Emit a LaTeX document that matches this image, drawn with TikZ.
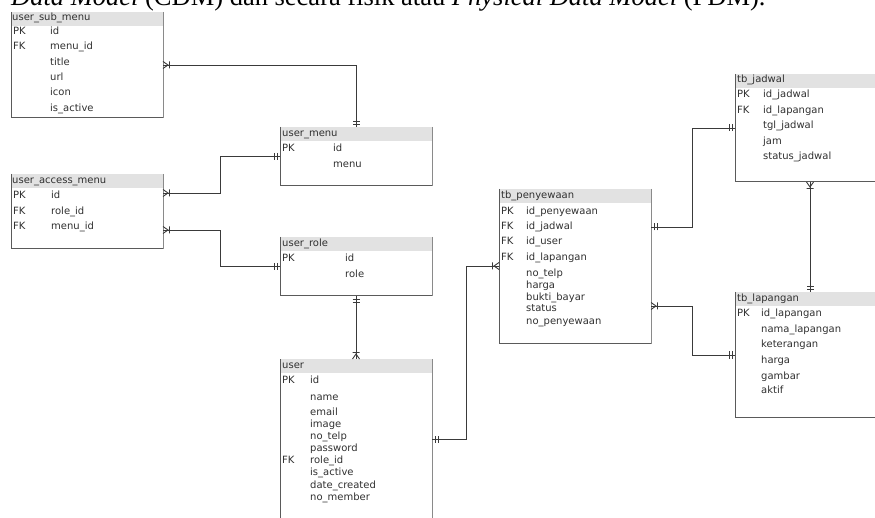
\documentclass[tikz,border=0pt]{standalone}
\usepackage{fontspec}
\setmainfont{Liberation Serif}
\newfontfamily\erfont{DejaVu Sans}
\usetikzlibrary{calc}
\definecolor{hdrgray}{HTML}{E2E2E2}
\definecolor{txtgray}{HTML}{303030}
\definecolor{linegray}{HTML}{3A3A3A}
\definecolor{frameL}{HTML}{5A5A5A}
\definecolor{frameR}{HTML}{8A8A8A}
\pgfarrowsdeclare{crowone}{crowone}
{\pgfarrowsleftextend{-8pt}\pgfarrowsrightextend{0pt}}
{\pgfsetdash{}{0pt}
 \pgfpathmoveto{\pgfqpoint{0pt}{3.5pt}}
 \pgfpathlineto{\pgfqpoint{-5pt}{0pt}}
 \pgfpathlineto{\pgfqpoint{0pt}{-3.5pt}}
 \pgfpathmoveto{\pgfqpoint{-6.5pt}{3.5pt}}
 \pgfpathlineto{\pgfqpoint{-6.5pt}{-3.5pt}}
 \pgfusepathqstroke}
\pgfarrowsdeclare{oneone}{oneone}
{\pgfarrowsleftextend{-8pt}\pgfarrowsrightextend{0pt}}
{\pgfsetdash{}{0pt}
 \pgfpathmoveto{\pgfqpoint{-3pt}{3.5pt}}
 \pgfpathlineto{\pgfqpoint{-3pt}{-3.5pt}}
 \pgfpathmoveto{\pgfqpoint{-6pt}{3.5pt}}
 \pgfpathlineto{\pgfqpoint{-6pt}{-3.5pt}}
 \pgfusepathqstroke}
\tikzset{
  tframe/.style={inner sep=0pt, outer sep=0pt, anchor=north west},
  fld/.style={anchor=west, inner sep=0pt, text=txtgray,
    font=\erfont\fontsize{10}{12}\selectfont, text height=7pt, text depth=1.6pt},
  conn/.style={draw=linegray, line width=0.9pt},
}
\newcommand{\ertable}[1]{%
  \fill[hdrgray] (#1.north west) rectangle ($(#1.north east)+(0,14)$);
  \draw[frameR, line width=0.9pt] (#1.north east) -- (#1.south east);
  \draw[frameL, line width=1pt] (#1.north west) -- (#1.south west) -- (#1.south east);
}
\begin{document}
\begin{tikzpicture}[x=1pt,y=-1pt]
\useasboundingbox (0,0) rectangle (875,518);
\clip (0,0) rectangle (875,518);
% title (cut off at top)
\node[anchor=base west, inner sep=0pt, font=\fontsize{26.5}{30}\selectfont] (title) at (11,6)
  {\textit{Data Model} (CDM) dan secara fisik atau \textit{Physical Data Model} (PDM).};
% table frames
\node[tframe, minimum width=152pt, minimum height=106pt] (usm) at (11,12) {};
\node[tframe, minimum width=152pt, minimum height=59pt] (um) at (280,127) {};
\node[tframe, minimum width=152pt, minimum height=75pt] (uam) at (11,174) {};
\node[tframe, minimum width=152pt, minimum height=59pt] (ur) at (280,237) {};
\node[tframe, minimum width=152pt, minimum height=165pt] (user) at (280,359) {};
\node[tframe, minimum width=152pt, minimum height=155pt] (pen) at (499,189) {};
\node[tframe, minimum width=150pt, minimum height=108pt] (jad) at (735,74) {};
\node[tframe, minimum width=150pt, minimum height=125pt] (lap) at (735,292) {};
\ertable{usm}\ertable{um}\ertable{uam}\ertable{ur}\ertable{user}\ertable{pen}\ertable{jad}\ertable{lap}
% user_sub_menu
\node[fld] (usmh) at (12,18) {user\_sub\_menu};
\node[fld] (usmk1) at (13,32) {PK};
\node[fld] (usmf1) at (50,32) {id};
\node[fld] (usmk2) at (13,47) {FK};
\node[fld] (usmf2) at (50,47) {menu\_id};
\node[fld] (usmf3) at (50,63) {title};
\node[fld] (usmf4) at (50,78) {url};
\node[fld] (usmf5) at (50,93) {icon};
\node[fld] (usmf6) at (50,109) {is\_active};
% user_menu
\node[fld] (umh) at (282,134) {user\_menu};
\node[fld] (umk1) at (282,149) {PK};
\node[fld] (umf1) at (333,149) {id};
\node[fld] (umf2) at (333,165) {menu};
% user_access_menu
\node[fld] (uamh) at (12,181) {user\_access\_menu};
\node[fld] (uamk1) at (13,196) {PK};
\node[fld] (uamf1) at (51,196) {id};
\node[fld] (uamk2) at (13,212) {FK};
\node[fld] (uamf2) at (51,212) {role\_id};
\node[fld] (uamk3) at (13,227) {FK};
\node[fld] (uamf3) at (51,227) {menu\_id};
% user_role
\node[fld] (urh) at (282,244) {user\_role};
\node[fld] (urk1) at (282,259) {PK};
\node[fld] (urf1) at (345,259) {id};
\node[fld] (urf2) at (345,275) {role};
% user
\node[fld] (userh) at (282,366) {user};
\node[fld] (userk1) at (282,381) {PK};
\node[fld] (userf1) at (310,381) {id};
\node[fld] (userf2) at (310,398) {name};
\node[fld] (userf3) at (310,413) {email};
\node[fld] (userf4) at (310,425) {image};
\node[fld] (userf5) at (310,437) {no\_telp};
\node[fld] (userf6) at (310,449) {password};
\node[fld] (userk2) at (282,461) {FK};
\node[fld] (userf7) at (310,461) {role\_id};
\node[fld] (userf8) at (310,473) {is\_active};
\node[fld] (userf9) at (310,486) {date\_created};
\node[fld] (userf10) at (310,498) {no\_member};
% tb_penyewaan
\node[fld] (penh) at (501,196) {tb\_penyewaan};
\node[fld] (penk1) at (501,212) {PK};
\node[fld] (penf1) at (526,212) {id\_penyewaan};
\node[fld] (penk2) at (501,227) {FK};
\node[fld] (penf2) at (526,227) {id\_jadwal};
\node[fld] (penk3) at (501,242) {FK};
\node[fld] (penf3) at (526,242) {id\_user};
\node[fld] (penk4) at (501,258) {FK};
\node[fld] (penf4) at (526,258) {id\_lapangan};
\node[fld] (penf5) at (526,274) {no\_telp};
\node[fld] (penf6) at (526,286) {harga};
\node[fld] (penf7) at (526,298) {bukti\_bayar};
\node[fld] (penf8) at (526,309) {status};
\node[fld] (penf9) at (526,322) {no\_penyewaan};
% tb_jadwal
\node[fld] (jadh) at (737,80) {tb\_jadwal};
\node[fld] (jadk1) at (737,95) {PK};
\node[fld] (jadf1) at (763,95) {id\_jadwal};
\node[fld] (jadk2) at (737,111) {FK};
\node[fld] (jadf2) at (763,111) {id\_lapangan};
\node[fld] (jadf3) at (763,126) {tgl\_jadwal};
\node[fld] (jadf4) at (763,142) {jam};
\node[fld] (jadf5) at (763,157) {status\_jadwal};
% tb_lapangan
\node[fld] (laph) at (737,299) {tb\_lapangan};
\node[fld] (lapk1) at (737,314) {PK};
\node[fld] (lapf1) at (761,314) {id\_lapangan};
\node[fld] (lapf2) at (761,330) {nama\_lapangan};
\node[fld] (lapf3) at (761,345) {keterangan};
\node[fld] (lapf4) at (761,361) {harga};
\node[fld] (lapf5) at (761,377) {gambar};
\node[fld] (lapf6) at (761,391) {aktif};
% connectors
\draw[conn, crowone-oneone] (usm.east) -| (um.north);
\draw[conn, crowone-oneone] ($(uam.north east)+(0,19)$) -- ++(57,0) |- (um.west);
\draw[conn, crowone-oneone] ($(uam.north east)+(0,56)$) -- ++(57,0) |- (ur.west);
\draw[conn, oneone-crowone] (ur.south) -- (user.north);
\draw[conn, oneone-crowone] ($(user.north east)+(0,80)$) -- ++(34,0) |- ($(pen.north west)+(0,77)$);
\draw[conn, oneone-oneone] ($(pen.north east)+(0,38)$) -- ++(41,0) |- ($(jad.north west)+(0,54)$);
\draw[conn, crowone-oneone] ($(pen.north east)+(0,117)$) -- ++(41,0) |- ($(lap.north west)+(0,63)$);
\draw[conn, crowone-oneone] ($(jad.south west)+(75,0)$) -- ($(lap.north west)+(75,0)$);
\end{tikzpicture}
\end{document}
